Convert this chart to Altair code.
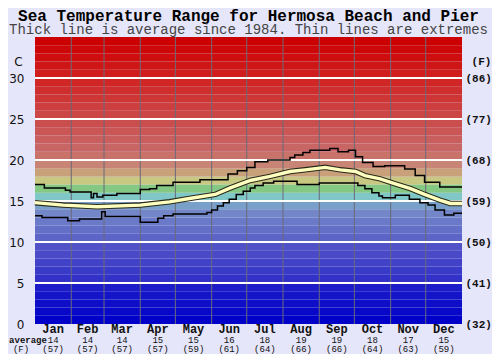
import altair as alt
import pandas as pd

# ---------------- data ----------------
months = ["Jan", "Feb", "Mar", "Apr", "May", "Jun", "Jul", "Aug", "Sep", "Oct", "Nov", "Dec"]
month_days = [31, 28, 31, 30, 31, 30, 31, 31, 30, 31, 30, 31]
avg_c = [14, 14, 14, 15, 15, 16, 18, 19, 19, 18, 17, 15]
avg_f = [57, 57, 57, 57, 59, 61, 64, 66, 66, 64, 63, 59]

max_day = [0, 8, 26, 30, 48, 50, 53, 58, 70, 90, 98, 104, 118, 141, 165, 173, 181, 188,
           199, 218, 222, 229, 235, 252, 259, 268, 274, 280, 289, 299, 316, 325, 333, 346, 365]
max_temp = [17.0, 16.6, 16.3, 16.1, 15.4, 15.9, 15.5, 15.7, 15.9, 16.4, 16.5, 16.9, 17.3, 17.6,
            18.3, 18.7, 19.1, 19.8, 20.0, 20.3, 20.6, 20.9, 21.2, 21.4, 21.0, 21.2, 20.4, 19.7,
            19.2, 19.3, 18.9, 18.1, 17.3, 16.7, 16.7]

min_day = [0, 6, 28, 38, 57, 60, 90, 105, 110, 118, 147, 151, 156, 161, 166, 172, 178, 184,
           188, 195, 204, 224, 243, 276, 282, 288, 294, 297, 308, 320, 329, 336, 342, 350, 358, 365]
min_temp = [13.2, 13.0, 12.6, 12.8, 13.7, 13.1, 12.4, 12.9, 13.2, 13.4, 13.6, 13.9, 14.4, 14.8,
            15.2, 15.8, 16.2, 16.6, 16.9, 17.2, 17.4, 17.0, 17.2, 16.9, 16.5, 16.0, 15.6, 15.4,
            15.7, 15.2, 14.8, 14.5, 13.9, 13.3, 13.5, 13.5]

avg_day = [0, 24, 53, 90, 115, 132, 154, 167, 184, 201, 218, 231, 248, 261, 274, 282, 295,
           308, 321, 333, 346, 355, 365]
avg_temp = [14.8, 14.5, 14.3, 14.5, 14.9, 15.3, 15.8, 16.6, 17.5, 18.0, 18.6, 18.8, 19.1, 18.8,
            18.6, 18.1, 17.7, 17.1, 16.5, 15.8, 15.1, 14.7, 14.7]

c_ticks = [0, 5, 10, 15, 20, 25, 30]
grid_c = [5, 10, 15, 20, 25, 30]

# one colour per 1 degree band, from 0-1 up to 34-35
band_colors = [
    "#0000c8", "#0808c8", "#0e0ec8", "#1414c8", "#1c1cc8",
    "#3232c8", "#3a3ac8", "#4242c8", "#4a4ac8", "#5252c8",
    "#5c64c8", "#6470c8", "#6a7ac8", "#7286c8", "#78a0c8",
    "#80c8c8", "#84c884", "#c8c882", "#c8a07a", "#c88474",
    "#c8726a", "#c86666", "#c95e5e", "#ca5656", "#cb4e4e",
    "#cc4646", "#cd3e3e", "#ce3636", "#cf2e2e", "#d02626",
    "#d01e1e", "#cf1616", "#ce0e0e", "#cd0707", "#cc0000",
]

# ---------------- frames ----------------
bands_df = pd.DataFrame({"lo": list(range(35)), "hi": list(range(1, 36)), "color": band_colors})
grid_df = pd.DataFrame({"c": grid_c})
starts = [sum(month_days[:i]) for i in range(12)]
bounds_df = pd.DataFrame({"d": starts[1:]})
months_df = pd.DataFrame({
    "mid": [s + n / 2 for s, n in zip(starts, month_days)],
    "month": months,
    "c": [str(v) for v in avg_c],
    "f": ["(%d)" % v for v in avg_f],
})
max_df = pd.DataFrame({"day": max_day, "temp": max_temp})
min_df = pd.DataFrame({"day": min_day, "temp": min_temp})
avg_df = pd.DataFrame({"day": avg_day, "temp": avg_temp})

W, H = 427, 287
MONO = "Liberation Mono"
SANS = "DejaVu Sans"
xs = alt.Scale(domain=[0, 365], nice=False, zero=False)
ys = alt.Scale(domain=[0, 35], nice=False, zero=False)

bands = alt.Chart(bands_df).mark_rect(strokeWidth=0).encode(
    x=alt.value(0), x2=alt.value(W),
    y=alt.Y("lo:Q", scale=ys, axis=alt.Axis(
        values=c_ticks, title="C", titleAngle=0, titleX=-17, titleY=24,
        titleAlign="center", titleBaseline="middle", titleFont=SANS, titleFontSize=12,
        titleFontWeight="normal", titleColor="#111",
        labelFont=SANS, labelFontSize=12, labelColor="#111", labelPadding=11,
        domain=False, ticks=False, grid=False)),
    y2="hi:Q",
    color=alt.Color("color:N", scale=None),
)

grid = alt.Chart(grid_df).mark_rule(color="white", strokeWidth=2).encode(
    x=alt.value(0), x2=alt.value(W),
    y=alt.Y("c:Q", scale=ys, axis=alt.Axis(
        orient="right", values=c_ticks,
        labelExpr="'(' + round(datum.value * 9 / 5 + 32) + ')'",
        title="(F)", titleAngle=0, titleX=19, titleY=24,
        titleAlign="center", titleBaseline="middle", titleFont=MONO, titleFontSize=11,
        titleFontWeight="bold", titleColor="#111",
        labelFont=MONO, labelFontSize=11, labelFontWeight="bold", labelColor="#111",
        labelPadding=3, domain=False, ticks=False, grid=False)),
)

vlines = alt.Chart(bounds_df).mark_rule(color="#6a6a78", strokeWidth=1).encode(
    x=alt.X("d:Q", scale=xs, axis=None),
)

def line(df, **kw):
    return alt.Chart(df).mark_line(**kw).encode(
        x=alt.X("day:Q", scale=xs, axis=None),
        y=alt.Y("temp:Q", scale=ys, axis=None),
    )

max_line = line(max_df, color="black", strokeWidth=1.5, interpolate="step-after")
min_line = line(min_df, color="black", strokeWidth=1.5, interpolate="step-after")
avg_outer = line(avg_df, color="#2a2a1a", strokeWidth=5.5, strokeCap="butt")
avg_inner = line(avg_df, color="#ffffc0", strokeWidth=3.4, strokeCap="butt")

def bottom(field, dy, size, weight):
    return alt.Chart(months_df).mark_text(
        font=MONO, fontSize=size, fontWeight=weight, color="#111",
        align="center", baseline="alphabetic").encode(
        x=alt.X("mid:Q", scale=xs, axis=None), y=alt.value(H + dy), text=f"{field}:N")

m_text = bottom("month", 8.5, 12, "bold")
c_text = bottom("c", 19, 9, "normal")
f_text = bottom("f", 27.5, 9, "normal")

one = alt.Data(values=[{}])
avg_lbl = alt.Chart(one).mark_text(font=MONO, fontSize=9, fontWeight="bold", color="#111",
                                   align="center", baseline="alphabetic").encode(
    x=alt.value(-7), y=alt.value(H + 19), text=alt.value("average"))
f_lbl = alt.Chart(one).mark_text(font=MONO, fontSize=9, color="#111",
                                 align="center", baseline="alphabetic").encode(
    x=alt.value(-14), y=alt.value(H + 27.5), text=alt.value("(F)"))

title = alt.Chart(one).mark_text(font=MONO, fontSize=16, fontWeight="bold", color="#000",
                                 align="center", baseline="alphabetic").encode(
    x=alt.value(W / 2), y=alt.value(-16.5),
    text=alt.value("Sea Temperature Range for Hermosa Beach and Pier"))
subtitle = alt.Chart(one).mark_text(font=MONO, fontSize=14, color="#444",
                                    align="center", baseline="alphabetic").encode(
    x=alt.value(W / 2), y=alt.value(-3.5),
    text=alt.value("Thick line is average since 1984. Thin lines are extremes"))

chart = alt.layer(
    bands, vlines, grid, max_line, min_line, avg_outer, avg_inner,
    m_text, c_text, f_text, avg_lbl, f_lbl, title, subtitle,
).resolve_axis(y="independent").properties(
    width=W, height=H, background="#e6e6fa",
    padding={"left": 27, "top": 29, "right": 30, "bottom": 30},
    autosize=alt.AutoSizeParams(type="none"),
).configure_view(stroke=None)

chart.save("out.html", embed_options={"renderer": "svg", "actions": False})
